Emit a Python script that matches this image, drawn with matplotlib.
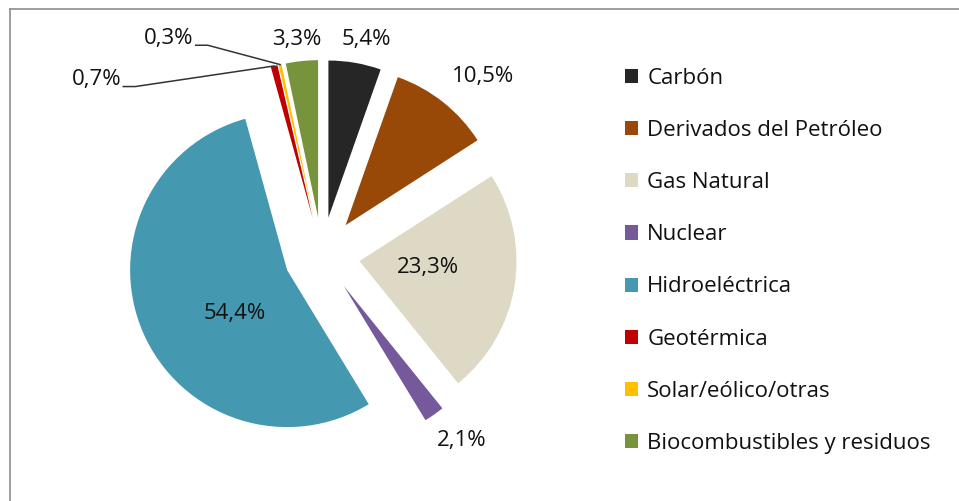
import numpy as np
import matplotlib.pyplot as plt
from matplotlib.lines import Line2D

plt.rcParams['font.family'] = ['Open Sans', 'DejaVu Sans']

# datos: consumo de energía primaria por fuente (%)
categorias = ['Carbón', 'Derivados del Petróleo', 'Gas Natural', 'Nuclear',
              'Hidroeléctrica', 'Geotérmica', 'Solar/eólico/otras',
              'Biocombustibles y residuos']
valores = [5.4, 10.5, 23.3, 2.1, 54.4, 0.7, 0.3, 3.3]
etiquetas = ['5,4%', '10,5%', '23,3%', '2,1%', '54,4%', '0,7%', '0,3%', '3,3%']
colores = ['#262626', '#984807', '#ddd9c4', '#76599a', '#4499b0',
           '#c00000', '#ffc000', '#77933c']

# posición de las etiquetas: distancia (en radios) y giro respecto al centro de la porción
dist_etiq = [1.40, 1.53, 0.68, 1.48, 0.67, 1.82, 1.69, 1.38]
giro_etiq = [-1.9, -3.8, 2.7, 2.0, 10.3, 37.9, 22.8, 0.7]
con_linea = [False, False, False, False, False, True, True, False]

W, H = 959, 501
fig = plt.figure(figsize=(W / 100, H / 100), dpi=100)
ax = fig.add_axes([0, 0, 1, 1])

centro = (322, 246)
radio = 157
sep = 38

wedges, _ = ax.pie(valores, colors=colores, startangle=90, counterclock=False,
                   explode=[sep] * len(valores), center=centro, radius=radio,
                   wedgeprops=dict(linewidth=0))
ax.set_xlim(0, W)
ax.set_ylim(0, H)
ax.set_aspect('auto')
ax.axis('off')

textos = []
for w, lab, d, g in zip(wedges, etiquetas, dist_etiq, giro_etiq):
    mid = np.deg2rad((w.theta1 + w.theta2) / 2 + g)
    x = centro[0] + d * radio * np.cos(mid)
    y = centro[1] + d * radio * np.sin(mid)
    t = ax.text(x, y, lab, ha='center', va='center', fontsize=16, color='#111111')
    textos.append(t)

# líneas guía para las porciones pequeñas
fig.canvas.draw()
r = fig.canvas.get_renderer()
for w, t, linea in zip(wedges, textos, con_linea):
    if not linea:
        continue
    mid = np.deg2rad((w.theta1 + w.theta2) / 2)
    px = w.center[0] + radio * np.cos(mid)
    py = w.center[1] + radio * np.sin(mid)
    bb = t.get_window_extent(r)
    y0 = t.get_position()[1] - 7
    ax.plot([bb.x1 + 2, bb.x1 + 14, px], [y0, y0, py], color='#333333', lw=1.1)

leg = ax.legend(wedges, categorias, loc='upper left',
                bbox_to_anchor=(625 / W, 433 / H), frameon=False,
                fontsize=16, handlelength=0.6, handleheight=0.6,
                handletextpad=0.4, labelspacing=1.4, borderpad=0,
                borderaxespad=0)
for txt in leg.get_texts():
    txt.set_color('#111111')

# marco del gráfico
fig.add_artist(Line2D([10 / W, 10 / W], [0, 1 - 9 / H], color='#8c8c8c', lw=1.2))
fig.add_artist(Line2D([10 / W, 1], [1 - 9 / H, 1 - 9 / H], color='#8c8c8c', lw=1.2))

fig.savefig('out.png', dpi=100)
